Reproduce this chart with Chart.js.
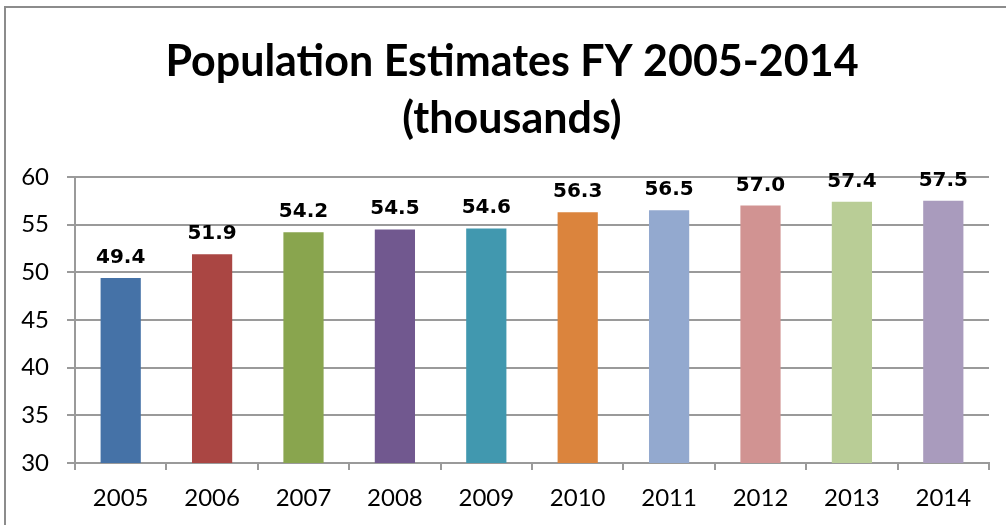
<!DOCTYPE html>
<html>
<head>
<meta charset="utf-8">
<script src="https://cdn.jsdelivr.net/npm/chart.js@4"></script>
<style>
  html, body { margin: 0; padding: 0; background: #fff; }
  #wrap { width: 1006px; height: 525px; position: relative; }
</style>
</head>
<body>
<div id="wrap"><canvas id="popChart" width="1006" height="525"></canvas></div>
<script>
// fiscal years and population estimates (thousands)
var years = ['2005', '2006', '2007', '2008', '2009', '2010', '2011', '2012', '2013', '2014'];
var population = [49.4, 51.9, 54.2, 54.5, 54.6, 56.3, 56.5, 57.0, 57.4, 57.5];
var barColors = ['#4572A7', '#AA4643', '#89A54E', '#71588F', '#4198AF',
                 '#DB843D', '#93A9CF', '#D19392', '#B9CD96', '#A99BBD'];
var titleLines = ['Population Estimates FY 2005-2014', '(thousands)'];

var FONT = "Lato, 'Liberation Sans', sans-serif";
var LABEL_FONT = "'DejaVu Sans', sans-serif";

// outer frame like the spreadsheet chart border
var framePlugin = {
    id: 'frame',
    beforeDraw: function (chart) {
        var ctx = chart.ctx;
        ctx.save();
        ctx.strokeStyle = '#8c8c8c';
        ctx.lineWidth = 2;
        ctx.strokeRect(5, 7, chart.width + 10, chart.height + 10);
        ctx.restore();
    }
};

// two-line title, centred a little right of the canvas middle like the original
var titlePlugin = {
    id: 'bigTitle',
    afterDraw: function (chart) {
        var ctx = chart.ctx;
        ctx.save();
        ctx.font = 'bold 43px ' + FONT;
        ctx.fillStyle = '#000';
        ctx.textAlign = 'center';
        ctx.textBaseline = 'middle';
        titleLines.forEach(function (line, i) {
            ctx.fillText(line, 512, 62 + i * 57);
        });
        ctx.restore();
    }
};

// bold value labels above each bar
var valueLabels = {
    id: 'valueLabels',
    afterDatasetsDraw: function (chart) {
        var ctx = chart.ctx;
        var meta = chart.getDatasetMeta(0);
        ctx.save();
        ctx.font = 'bold 20px ' + LABEL_FONT;
        ctx.fillStyle = '#000';
        ctx.textAlign = 'center';
        ctx.textBaseline = 'alphabetic';
        meta.data.forEach(function (bar, i) {
            ctx.fillText(population[i].toFixed(1), bar.x, bar.y - 15);
        });
        ctx.restore();
    }
};

var ctx = document.getElementById('popChart');
new Chart(ctx, {
    type: 'bar',
    data: {
        labels: years,
        datasets: [{
            data: population,
            backgroundColor: barColors,
            borderWidth: 0,
            categoryPercentage: 1.0,
            barPercentage: 0.44
        }]
    },
    options: {
        responsive: false,
        animation: false,
        layout: {padding: {left: 0, right: 17, top: 177, bottom: 0}},
        plugins: {
            legend: {display: false},
            tooltip: {enabled: false},
            title: {display: false}
        },
        scales: {
            x: {
                grid: {
                    display: true,
                    drawOnChartArea: false,
                    drawTicks: true,
                    tickLength: 7,
                    color: '#9a9a9a',
                    lineWidth: 2,
                    offset: true
                },
                border: {display: true, color: '#9a9a9a', width: 2},
                ticks: {color: '#000', font: {family: FONT, size: 24}, padding: 14},
                afterFit: function (scale) { scale.height = 62; }
            },
            y: {
                min: 30,
                max: 60,
                ticks: {stepSize: 5, color: '#000', font: {family: FONT, size: 24}, padding: 18},
                grid: {color: '#9a9a9a', lineWidth: 2, tickLength: 8},
                border: {display: true, color: '#9a9a9a', width: 2},
                afterFit: function (scale) { scale.width = 75; }
            }
        }
    },
    plugins: [framePlugin, valueLabels, titlePlugin]
});
</script>
</body>
</html>
